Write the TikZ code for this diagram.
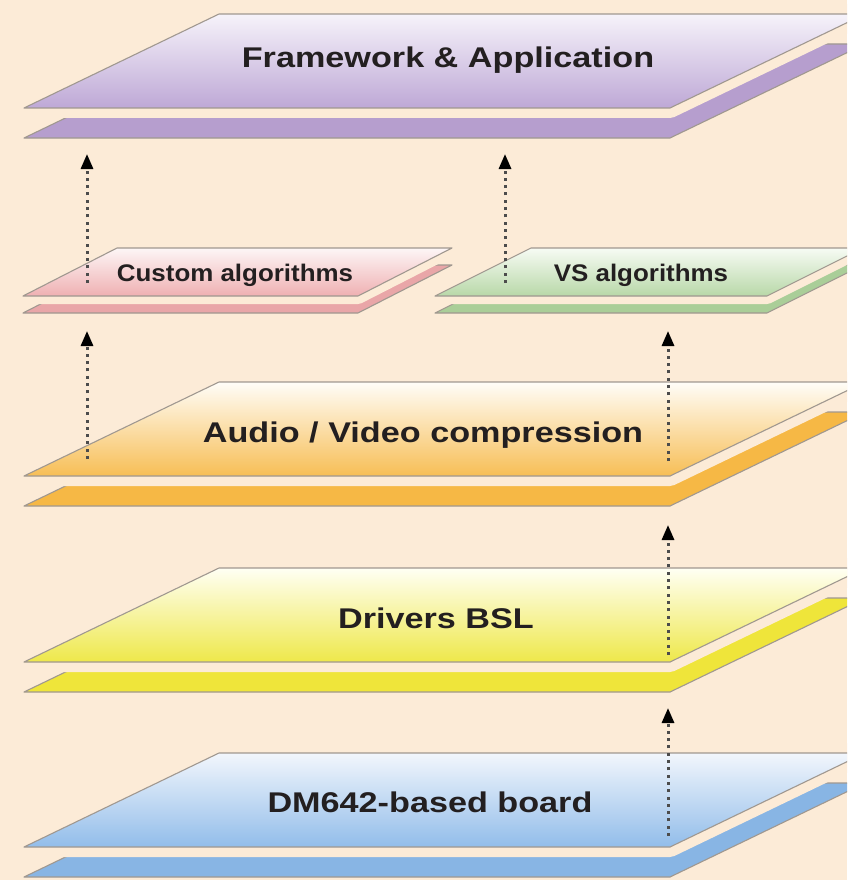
\documentclass[tikz,border=0pt]{standalone}
\usepackage{fontspec}
\usetikzlibrary{arrows.meta}
\newfontfamily\bigfont[FakeStretch=1.2]{Liberation Sans}
\newfontfamily\smallfont[FakeStretch=1.08]{Liberation Sans}
\definecolor{bgc}{HTML}{FCEBD7}
\definecolor{edgec}{HTML}{A09890}
\definecolor{txtc}{HTML}{231F20}
\definecolor{dotc}{HTML}{4C4C4C}
\definecolor{purpT}{HTML}{F6F3FA}\definecolor{purpB}{HTML}{BEA8D6}\definecolor{purpL}{HTML}{B69ECE}
\definecolor{pinkT}{HTML}{FDF6F6}\definecolor{pinkB}{HTML}{EFB0B2}\definecolor{pinkL}{HTML}{E9A6A8}
\definecolor{grenT}{HTML}{F7FBF4}\definecolor{grenB}{HTML}{B8D8A8}\definecolor{grenL}{HTML}{AACE98}
\definecolor{orngT}{HTML}{FFFDF8}\definecolor{orngB}{HTML}{F7BE55}\definecolor{orngL}{HTML}{F6B845}
\definecolor{yellT}{HTML}{FFFFF4}\definecolor{yellB}{HTML}{EEE84A}\definecolor{yellL}{HTML}{EFE53A}
\definecolor{blueT}{HTML}{F2F6FC}\definecolor{blueB}{HTML}{92BDEA}\definecolor{blueL}{HTML}{88B5E4}
\tikzset{
  plateedge/.style={draw=edgec, line width=1.1pt, line join=round},
  gapline/.style={draw=bgc, line join=round},
  biglabel/.style={anchor=base, text=txtc, font=\bigfont\bfseries\fontsize{28.5}{30}\selectfont, inner sep=0pt},
  smalllabel/.style={anchor=base, text=txtc, font=\smallfont\bfseries\fontsize{24}{26}\selectfont, inner sep=0pt},
  uparrow/.style={draw=dotc, line width=3pt, dash pattern=on 3pt off 4.3pt,
    -{Triangle[width=12pt,length=15pt,sep=6pt,color=black]}}
}
% #1 x of bottom-left, #2 bottom y, #3 width, #4 height, #5 slant, #6 shift of lower slab, #7 gap stroke width, #8 colour prefix
\newcommand\layerplate[8]{%
  \fill[#8L, plateedge] (#1,#2+#6) -- (#1+#3,#2+#6) -- (#1+#3+#5,#2+#6-#4) -- (#1+#5,#2+#6-#4) -- cycle;
  \draw[gapline, line width=#7pt] (#1,#2) -- (#1+#3,#2) -- (#1+#3+#5,#2-#4) -- (#1+#5,#2-#4) -- cycle;
  \shade[top color=#8T, bottom color=#8B, plateedge] (#1,#2) -- (#1+#3,#2) -- (#1+#3+#5,#2-#4) -- (#1+#5,#2-#4) -- cycle;
}
\begin{document}
\begin{tikzpicture}[x=1pt,y=-1pt]
\useasboundingbox (0,0) rectangle (847,880);
\fill[bgc] (0,0) rectangle (847,880);
\clip (0,0) rectangle (847,880);
% plates
\layerplate{24}{108}{646}{94}{195}{30}{20}{purp}
\layerplate{23}{296}{335}{48}{94}{17}{16}{pink}
\layerplate{435}{296}{332}{48}{96}{17}{16}{gren}
\layerplate{24}{476}{646}{94}{195}{30}{20}{orng}
\layerplate{24}{662}{646}{94}{195}{30}{20}{yell}
\layerplate{24}{847}{646}{94}{195}{30}{20}{blue}
% labels
\node[biglabel] (fw) at (448,68) {Framework \& Application};
\node[smalllabel] (ca) at (235,281) {Custom algorithms};
\node[smalllabel] (vs) at (641,281) {VS algorithms};
\node[biglabel] (av) at (423,442) {Audio / Video compression};
\node[biglabel] (dr) at (436,628) {Drivers BSL};
\node[biglabel] (dm) at (430,812) {DM642-based board};
% arrow end points
\coordinate (a1s) at (87,283);  \coordinate (a1e) at (87,148);
\coordinate (a2s) at (505,283); \coordinate (a2e) at (505,148);
\coordinate (a3s) at (87,459);  \coordinate (a3e) at (87,325);
\coordinate (a4s) at (668,461); \coordinate (a4e) at (668,325);
\coordinate (a5s) at (668,655); \coordinate (a5e) at (668,519);
\coordinate (a6s) at (668,836); \coordinate (a6e) at (668,702);
\draw[uparrow] (a1s) -- (a1e);
\draw[uparrow] (a2s) -- (a2e);
\draw[uparrow] (a3s) -- (a3e);
\draw[uparrow] (a4s) -- (a4e);
\draw[uparrow] (a5s) -- (a5e);
\draw[uparrow] (a6s) -- (a6e);
\end{tikzpicture}
\end{document}
